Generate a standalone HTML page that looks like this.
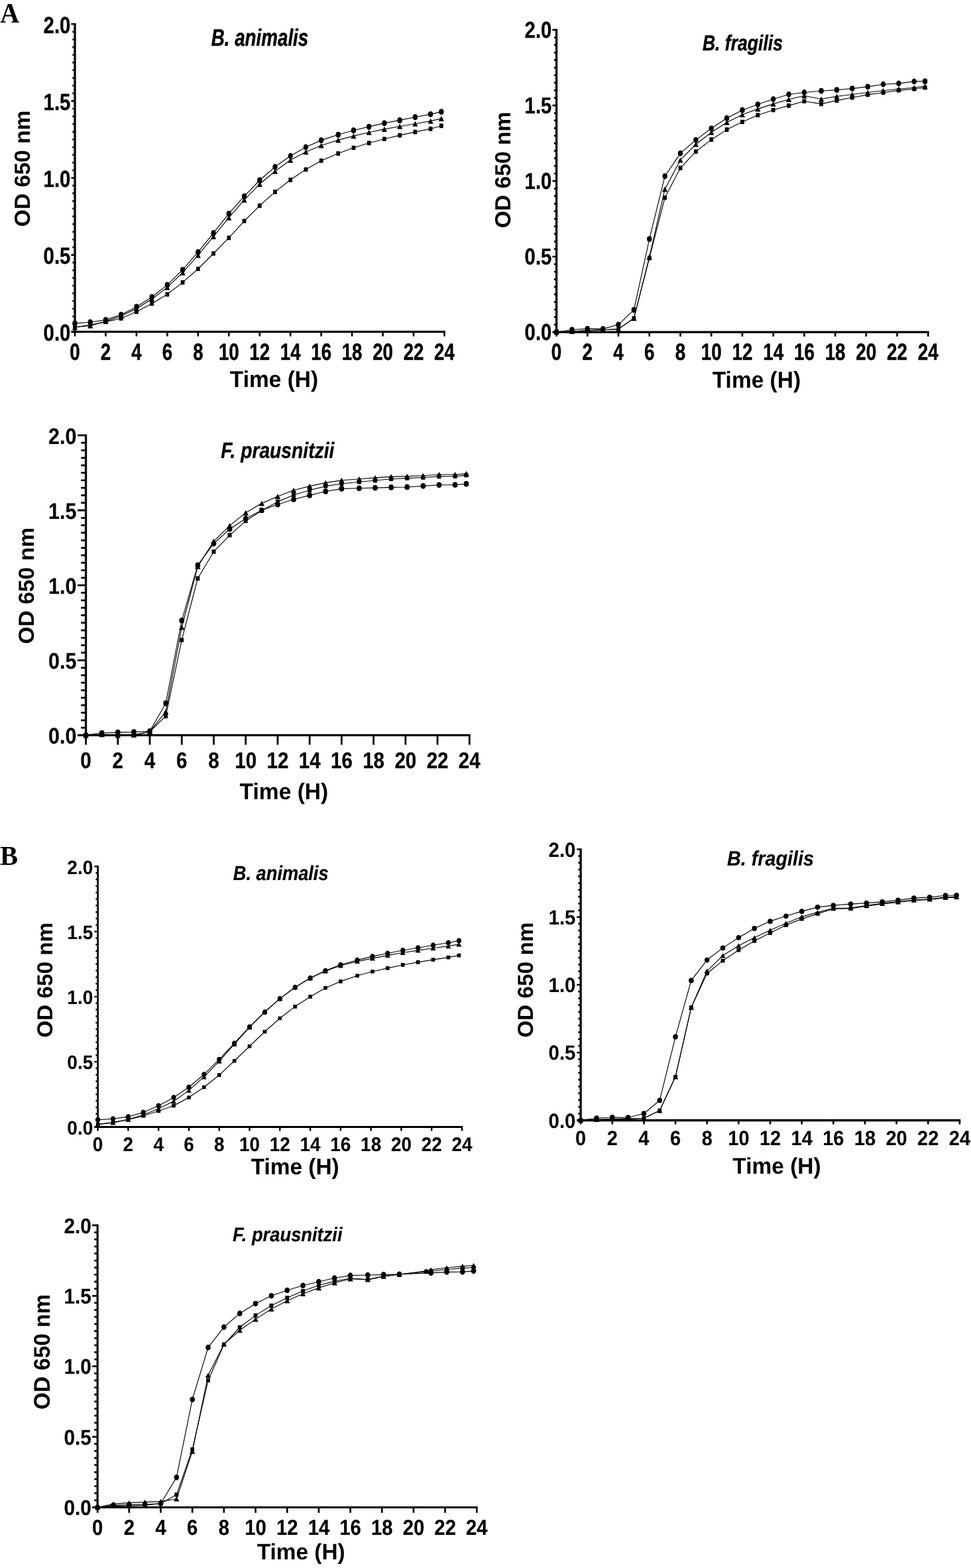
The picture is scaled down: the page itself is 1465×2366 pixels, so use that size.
<!DOCTYPE html>
<html lang="en"><head><meta charset="utf-8"><title>Growth curves</title>
<style>
html,body{margin:0;padding:0;background:#fff}
body{width:1465px;height:2366px;overflow:hidden}
svg{display:block}
text{fill:#000;text-rendering:geometricPrecision}
</style></head><body>
<svg width="1465" height="2366" viewBox="0 0 1465 2366">
<rect width="1465" height="2366" fill="#fff"/>
<text font-family="Liberation Serif, Times New Roman, serif" font-weight="bold" font-size="42.27" transform="translate(0.25 34) scale(0.945 1)">A</text>
<text font-family="Liberation Serif, Times New Roman, serif" font-weight="bold" font-size="41.37" transform="translate(0.09 1305) scale(0.979 1)">B</text>
<g id="chart1">
<g stroke="#000" fill="none" stroke-linecap="butt">
<path stroke-width="3.3" d="M113 35V502.35"/>
<path stroke-width="3.3" d="M107.4 500.7H671.8"/>
<path stroke-width="2.6" d="M107.4 384.6H113M107.4 268.5H113M107.4 152.4H113M107.4 36.3H113"/>
<path stroke-width="2.7" d="M109.3 489.09H113M109.3 477.48H113M109.3 465.87H113M109.3 454.26H113M109.3 442.65H113M109.3 431.04H113M109.3 419.43H113M109.3 407.82H113M109.3 396.21H113M109.3 372.99H113M109.3 361.38H113M109.3 349.77H113M109.3 338.16H113M109.3 326.55H113M109.3 314.94H113M109.3 303.33H113M109.3 291.72H113M109.3 280.11H113M109.3 256.89H113M109.3 245.28H113M109.3 233.67H113M109.3 222.06H113M109.3 210.45H113M109.3 198.84H113M109.3 187.23H113M109.3 175.62H113M109.3 164.01H113M109.3 140.79H113M109.3 129.18H113M109.3 117.57H113M109.3 105.96H113M109.3 94.35H113M109.3 82.74H113M109.3 71.13H113M109.3 59.52H113M109.3 47.91H113"/>
<path stroke-width="2.6" d="M113 500.7V507.6M159.46 500.7V507.6M205.92 500.7V507.6M252.38 500.7V507.6M298.83 500.7V507.6M345.29 500.7V507.6M391.75 500.7V507.6M438.21 500.7V507.6M484.67 500.7V507.6M531.12 500.7V507.6M577.58 500.7V507.6M624.04 500.7V507.6M670.5 500.7V507.6"/>
</g>
<g font-family="Liberation Sans, Arial, sans-serif" font-weight="bold" font-size="35.11" text-anchor="end" stroke="#000" stroke-width="0.36" stroke-linejoin="round">
<text transform="translate(106.33 513.97) scale(0.834 1)">0.0</text>
<text transform="translate(106.33 397.87) scale(0.834 1)">0.5</text>
<text transform="translate(106.33 281.77) scale(0.834 1)">1.0</text>
<text transform="translate(106.33 165.67) scale(0.834 1)">1.5</text>
<text transform="translate(106.33 49.57) scale(0.834 1)">2.0</text>
</g>
<g font-family="Liberation Sans, Arial, sans-serif" font-weight="bold" font-size="35.3" text-anchor="middle" stroke="#000" stroke-width="0.48" stroke-linejoin="round">
<text transform="translate(113 542.86) scale(0.784 1)">0</text>
<text transform="translate(159.46 542.86) scale(0.784 1)">2</text>
<text transform="translate(205.92 542.86) scale(0.784 1)">4</text>
<text transform="translate(252.38 542.86) scale(0.784 1)">6</text>
<text transform="translate(298.83 542.86) scale(0.784 1)">8</text>
<text transform="translate(345.29 542.86) scale(0.784 1)">10</text>
<text transform="translate(391.75 542.86) scale(0.784 1)">12</text>
<text transform="translate(438.21 542.86) scale(0.784 1)">14</text>
<text transform="translate(484.67 542.86) scale(0.784 1)">16</text>
<text transform="translate(531.12 542.86) scale(0.784 1)">18</text>
<text transform="translate(577.58 542.86) scale(0.784 1)">20</text>
<text transform="translate(624.04 542.86) scale(0.784 1)">22</text>
<text transform="translate(670.5 542.86) scale(0.784 1)">24</text>
</g>
<text font-family="Liberation Sans, Arial, sans-serif" font-weight="bold" font-style="italic" font-size="36.01" stroke="#000" stroke-width="0.54" stroke-linejoin="round" transform="translate(318.72 68.83) scale(0.771 1)">B. animalis</text>
<text font-family="Liberation Sans, Arial, sans-serif" font-weight="bold" font-size="34.62" transform="translate(346.87 584.1) scale(0.967 1)">Time (H)</text>
<text font-family="Liberation Sans, Arial, sans-serif" font-weight="bold" font-size="33.02" transform="translate(44.73 342.14) rotate(-90) scale(1.018 1)">OD 650 nm</text>
<g stroke="#000" stroke-width="1.15" fill="none" stroke-linejoin="round">
<polyline points="113,487.93 136.23,486.3 159.46,482.59 182.69,474.93 205.92,463.08 229.15,448.22 252.38,429.88 275.6,407.12 298.83,380.42 322.06,351.63 345.29,322.37 368.52,296.13 391.75,271.98 414.98,251.78 438.21,235.3 461.44,222.06 484.67,211.61 510.22,203.25 533.45,196.75 556.68,191.18 579.91,185.84 603.14,181.43 626.36,176.78 649.59,172.37 665.85,168.65"/>
<polyline points="113,493.73 136.23,490.25 159.46,485.61 182.69,480.5 205.92,470.28 229.15,458.21 252.38,444.04 275.6,426.16 298.83,405.73 322.06,382.51 345.29,358.83 368.52,333.52 391.75,310.3 414.98,289.63 438.21,271.29 461.44,255.73 484.67,242.49 510.22,231.58 533.45,222.99 556.68,215.79 579.91,209.75 603.14,204.18 626.36,199.07 649.59,194.43 665.85,189.78"/>
<polyline points="113,493.73 136.23,491.41 159.46,484.91 182.69,476.78 205.92,465.64 229.15,451.24 252.38,433.59 275.6,411.3 298.83,385.06 322.06,356.97 345.29,328.41 368.52,301.7 391.75,277.79 414.98,258.52 438.21,241.56 461.44,229.26 484.67,219.51 510.22,211.38 533.45,205.11 556.68,199.77 579.91,194.89 603.14,190.71 626.36,186.77 649.59,182.59 665.85,178.87"/>
</g>
<g fill="#000">
<path d="M109.3 487.93a3.7 4.45 0 1 0 7.4 0a3.7 4.45 0 1 0 -7.4 0zM132.53 486.3a3.7 4.45 0 1 0 7.4 0a3.7 4.45 0 1 0 -7.4 0zM155.76 482.59a3.7 4.45 0 1 0 7.4 0a3.7 4.45 0 1 0 -7.4 0zM178.99 474.93a3.7 4.45 0 1 0 7.4 0a3.7 4.45 0 1 0 -7.4 0zM202.22 463.08a3.7 4.45 0 1 0 7.4 0a3.7 4.45 0 1 0 -7.4 0zM225.45 448.22a3.7 4.45 0 1 0 7.4 0a3.7 4.45 0 1 0 -7.4 0zM248.68 429.88a3.7 4.45 0 1 0 7.4 0a3.7 4.45 0 1 0 -7.4 0zM271.9 407.12a3.7 4.45 0 1 0 7.4 0a3.7 4.45 0 1 0 -7.4 0zM295.13 380.42a3.7 4.45 0 1 0 7.4 0a3.7 4.45 0 1 0 -7.4 0zM318.36 351.63a3.7 4.45 0 1 0 7.4 0a3.7 4.45 0 1 0 -7.4 0zM341.59 322.37a3.7 4.45 0 1 0 7.4 0a3.7 4.45 0 1 0 -7.4 0zM364.82 296.13a3.7 4.45 0 1 0 7.4 0a3.7 4.45 0 1 0 -7.4 0zM388.05 271.98a3.7 4.45 0 1 0 7.4 0a3.7 4.45 0 1 0 -7.4 0zM411.28 251.78a3.7 4.45 0 1 0 7.4 0a3.7 4.45 0 1 0 -7.4 0zM434.51 235.3a3.7 4.45 0 1 0 7.4 0a3.7 4.45 0 1 0 -7.4 0zM457.74 222.06a3.7 4.45 0 1 0 7.4 0a3.7 4.45 0 1 0 -7.4 0zM480.97 211.61a3.7 4.45 0 1 0 7.4 0a3.7 4.45 0 1 0 -7.4 0zM506.52 203.25a3.7 4.45 0 1 0 7.4 0a3.7 4.45 0 1 0 -7.4 0zM529.75 196.75a3.7 4.45 0 1 0 7.4 0a3.7 4.45 0 1 0 -7.4 0zM552.98 191.18a3.7 4.45 0 1 0 7.4 0a3.7 4.45 0 1 0 -7.4 0zM576.21 185.84a3.7 4.45 0 1 0 7.4 0a3.7 4.45 0 1 0 -7.4 0zM599.44 181.43a3.7 4.45 0 1 0 7.4 0a3.7 4.45 0 1 0 -7.4 0zM622.67 176.78a3.7 4.45 0 1 0 7.4 0a3.7 4.45 0 1 0 -7.4 0zM645.89 172.37a3.7 4.45 0 1 0 7.4 0a3.7 4.45 0 1 0 -7.4 0zM662.15 168.65a3.7 4.45 0 1 0 7.4 0a3.7 4.45 0 1 0 -7.4 0z"/>
<path d="M110.15 490.38h5.7v6.7h-5.7zM133.38 486.9h5.7v6.7h-5.7zM156.61 482.26h5.7v6.7h-5.7zM179.84 477.15h5.7v6.7h-5.7zM203.07 466.93h5.7v6.7h-5.7zM226.3 454.86h5.7v6.7h-5.7zM249.53 440.69h5.7v6.7h-5.7zM272.75 422.81h5.7v6.7h-5.7zM295.98 402.38h5.7v6.7h-5.7zM319.21 379.16h5.7v6.7h-5.7zM342.44 355.48h5.7v6.7h-5.7zM365.67 330.17h5.7v6.7h-5.7zM388.9 306.95h5.7v6.7h-5.7zM412.13 286.28h5.7v6.7h-5.7zM435.36 267.94h5.7v6.7h-5.7zM458.59 252.38h5.7v6.7h-5.7zM481.82 239.14h5.7v6.7h-5.7zM507.37 228.23h5.7v6.7h-5.7zM530.6 219.64h5.7v6.7h-5.7zM553.83 212.44h5.7v6.7h-5.7zM577.06 206.4h5.7v6.7h-5.7zM600.29 200.83h5.7v6.7h-5.7zM623.52 195.72h5.7v6.7h-5.7zM646.74 191.08h5.7v6.7h-5.7zM663 186.43h5.7v6.7h-5.7z"/>
<path d="M113 489.63L117.1 497.83H108.9zM136.23 487.31L140.33 495.51H132.13zM159.46 480.81L163.56 489.01H155.36zM182.69 472.68L186.79 480.88H178.59zM205.92 461.54L210.02 469.74H201.82zM229.15 447.14L233.25 455.34H225.05zM252.38 429.49L256.47 437.7H248.28zM275.6 407.2L279.7 415.4H271.5zM298.83 380.96L302.93 389.17H294.73zM322.06 352.87L326.16 361.07H317.96zM345.29 324.31L349.39 332.51H341.19zM368.52 297.6L372.62 305.81H364.42zM391.75 273.69L395.85 281.89H387.65zM414.98 254.41L419.08 262.62H410.88zM438.21 237.46L442.31 245.67H434.11zM461.44 225.16L465.54 233.36H457.34zM484.67 215.4L488.77 223.61H480.57zM510.22 207.28L514.32 215.48H506.12zM533.45 201.01L537.55 209.21H529.35zM556.68 195.67L560.78 203.87H552.58zM579.91 190.79L584.01 198.99H575.81zM603.14 186.61L607.23 194.81H599.04zM626.36 182.66L630.46 190.87H622.27zM649.59 178.49L653.69 186.69H645.49zM665.85 174.77L669.95 182.97H661.75z"/>
</g>
</g>
<g id="chart2">
<g stroke="#000" fill="none" stroke-linecap="butt">
<path stroke-width="3.3" d="M839.6 43.8V502.85"/>
<path stroke-width="3.3" d="M833.5 501.2H1401.6"/>
<path stroke-width="2.6" d="M833.5 387.18H839.6M833.5 273.15H839.6M833.5 159.12H839.6M833.5 45.1H839.6"/>
<path stroke-width="2.7" d="M835.9 489.8H839.6M835.9 478.39H839.6M835.9 466.99H839.6M835.9 455.59H839.6M835.9 444.19H839.6M835.9 432.78H839.6M835.9 421.38H839.6M835.9 409.98H839.6M835.9 398.58H839.6M835.9 375.77H839.6M835.9 364.37H839.6M835.9 352.97H839.6M835.9 341.56H839.6M835.9 330.16H839.6M835.9 318.76H839.6M835.9 307.36H839.6M835.9 295.96H839.6M835.9 284.55H839.6M835.9 261.75H839.6M835.9 250.34H839.6M835.9 238.94H839.6M835.9 227.54H839.6M835.9 216.14H839.6M835.9 204.74H839.6M835.9 193.33H839.6M835.9 181.93H839.6M835.9 170.53H839.6M835.9 147.72H839.6M835.9 136.32H839.6M835.9 124.92H839.6M835.9 113.51H839.6M835.9 102.11H839.6M835.9 90.71H839.6M835.9 79.31H839.6M835.9 67.9H839.6M835.9 56.5H839.6"/>
<path stroke-width="2.6" d="M839.6 501.2V507.7M886.33 501.2V507.7M933.05 501.2V507.7M979.77 501.2V507.7M1026.5 501.2V507.7M1073.22 501.2V507.7M1119.95 501.2V507.7M1166.67 501.2V507.7M1213.4 501.2V507.7M1260.12 501.2V507.7M1306.85 501.2V507.7M1353.57 501.2V507.7M1400.3 501.2V507.7"/>
</g>
<g font-family="Liberation Sans, Arial, sans-serif" font-weight="bold" font-size="34.71" text-anchor="end" stroke="#000" stroke-width="0.34" stroke-linejoin="round">
<text transform="translate(832.33 513.48) scale(0.844 1)">0.0</text>
<text transform="translate(832.33 399.46) scale(0.844 1)">0.5</text>
<text transform="translate(832.33 285.43) scale(0.844 1)">1.0</text>
<text transform="translate(832.33 171.41) scale(0.844 1)">1.5</text>
<text transform="translate(832.33 57.38) scale(0.844 1)">2.0</text>
</g>
<g font-family="Liberation Sans, Arial, sans-serif" font-weight="bold" font-size="35.31" text-anchor="middle" stroke="#000" stroke-width="0.47" stroke-linejoin="round">
<text transform="translate(839.6 542.87) scale(0.789 1)">0</text>
<text transform="translate(886.33 542.87) scale(0.789 1)">2</text>
<text transform="translate(933.05 542.87) scale(0.789 1)">4</text>
<text transform="translate(979.77 542.87) scale(0.789 1)">6</text>
<text transform="translate(1026.5 542.87) scale(0.789 1)">8</text>
<text transform="translate(1073.22 542.87) scale(0.789 1)">10</text>
<text transform="translate(1119.95 542.87) scale(0.789 1)">12</text>
<text transform="translate(1166.67 542.87) scale(0.789 1)">14</text>
<text transform="translate(1213.4 542.87) scale(0.789 1)">16</text>
<text transform="translate(1260.12 542.87) scale(0.789 1)">18</text>
<text transform="translate(1306.85 542.87) scale(0.789 1)">20</text>
<text transform="translate(1353.57 542.87) scale(0.789 1)">22</text>
<text transform="translate(1400.3 542.87) scale(0.789 1)">24</text>
</g>
<text font-family="Liberation Sans, Arial, sans-serif" font-weight="bold" font-style="italic" font-size="32.81" stroke="#000" stroke-width="0.44" stroke-linejoin="round" transform="translate(1059.91 75.68) scale(0.810 1)">B. fragilis</text>
<text font-family="Liberation Sans, Arial, sans-serif" font-weight="bold" font-size="34.76" transform="translate(1074.77 585) scale(0.963 1)">Time (H)</text>
<text font-family="Liberation Sans, Arial, sans-serif" font-weight="bold" font-size="33.02" transform="translate(769.73 344.35) rotate(-90) scale(1.019 1)">OD 650 nm</text>
<g stroke="#000" stroke-width="1.15" fill="none" stroke-linejoin="round">
<polyline points="839.6,501.2 862.96,497.55 886.33,496.18 909.69,496.41 933.05,489.8 956.41,467.68 979.77,360.72 1003.14,265.85 1026.5,231.42 1049.86,211.12 1073.22,193.79 1096.59,178.28 1119.95,166.19 1143.31,157.53 1166.67,149.55 1190.04,142.48 1213.4,139.51 1239.1,137.23 1262.46,135.64 1285.82,133.58 1309.19,130.85 1332.55,127.2 1355.91,125.83 1379.27,122.87 1395.63,122.64"/>
<polyline points="839.6,501.2 862.96,500.06 886.33,498.92 909.69,497.78 933.05,496.64 956.41,480.22 979.77,389.46 1003.14,298.24 1026.5,253.54 1049.86,228.68 1073.22,210.66 1096.59,195.61 1119.95,183.98 1143.31,173.72 1166.67,165.97 1190.04,159.35 1213.4,152.74 1239.1,156.84 1262.46,151.6 1285.82,147.27 1309.19,142.93 1332.55,139.74 1355.91,136.32 1379.27,134.27 1395.63,132.22"/>
<polyline points="839.6,501.2 862.96,500.06 886.33,498.92 909.69,497.78 933.05,496.64 956.41,480.22 979.77,387.63 1003.14,285.46 1026.5,241.45 1049.86,217.73 1073.22,199.72 1096.59,184.67 1119.95,173.04 1143.31,164.37 1166.67,156.84 1190.04,150 1213.4,144.53 1239.1,149.55 1262.46,145.44 1285.82,142.48 1309.19,139.51 1332.55,136.78 1355.91,134.27 1379.27,132.22 1395.63,130.16"/>
</g>
<g fill="#000">
<path d="M835.88 501.2a3.72 4.37 0 1 0 7.44 0a3.72 4.37 0 1 0 -7.44 0zM859.24 497.55a3.72 4.37 0 1 0 7.44 0a3.72 4.37 0 1 0 -7.44 0zM882.6 496.18a3.72 4.37 0 1 0 7.44 0a3.72 4.37 0 1 0 -7.44 0zM905.97 496.41a3.72 4.37 0 1 0 7.44 0a3.72 4.37 0 1 0 -7.44 0zM929.33 489.8a3.72 4.37 0 1 0 7.44 0a3.72 4.37 0 1 0 -7.44 0zM952.69 467.68a3.72 4.37 0 1 0 7.44 0a3.72 4.37 0 1 0 -7.44 0zM976.05 360.72a3.72 4.37 0 1 0 7.44 0a3.72 4.37 0 1 0 -7.44 0zM999.42 265.85a3.72 4.37 0 1 0 7.44 0a3.72 4.37 0 1 0 -7.44 0zM1022.78 231.42a3.72 4.37 0 1 0 7.44 0a3.72 4.37 0 1 0 -7.44 0zM1046.14 211.12a3.72 4.37 0 1 0 7.44 0a3.72 4.37 0 1 0 -7.44 0zM1069.5 193.79a3.72 4.37 0 1 0 7.44 0a3.72 4.37 0 1 0 -7.44 0zM1092.87 178.28a3.72 4.37 0 1 0 7.44 0a3.72 4.37 0 1 0 -7.44 0zM1116.23 166.19a3.72 4.37 0 1 0 7.44 0a3.72 4.37 0 1 0 -7.44 0zM1139.59 157.53a3.72 4.37 0 1 0 7.44 0a3.72 4.37 0 1 0 -7.44 0zM1162.95 149.55a3.72 4.37 0 1 0 7.44 0a3.72 4.37 0 1 0 -7.44 0zM1186.32 142.48a3.72 4.37 0 1 0 7.44 0a3.72 4.37 0 1 0 -7.44 0zM1209.68 139.51a3.72 4.37 0 1 0 7.44 0a3.72 4.37 0 1 0 -7.44 0zM1235.38 137.23a3.72 4.37 0 1 0 7.44 0a3.72 4.37 0 1 0 -7.44 0zM1258.74 135.64a3.72 4.37 0 1 0 7.44 0a3.72 4.37 0 1 0 -7.44 0zM1282.1 133.58a3.72 4.37 0 1 0 7.44 0a3.72 4.37 0 1 0 -7.44 0zM1305.47 130.85a3.72 4.37 0 1 0 7.44 0a3.72 4.37 0 1 0 -7.44 0zM1328.83 127.2a3.72 4.37 0 1 0 7.44 0a3.72 4.37 0 1 0 -7.44 0zM1352.19 125.83a3.72 4.37 0 1 0 7.44 0a3.72 4.37 0 1 0 -7.44 0zM1375.55 122.87a3.72 4.37 0 1 0 7.44 0a3.72 4.37 0 1 0 -7.44 0zM1391.91 122.64a3.72 4.37 0 1 0 7.44 0a3.72 4.37 0 1 0 -7.44 0z"/>
<path d="M836.73 497.91h5.73v6.58h-5.73zM860.1 496.77h5.73v6.58h-5.73zM883.46 495.63h5.73v6.58h-5.73zM906.82 494.49h5.73v6.58h-5.73zM930.18 493.35h5.73v6.58h-5.73zM953.55 476.93h5.73v6.58h-5.73zM976.91 386.16h5.73v6.58h-5.73zM1000.27 294.94h5.73v6.58h-5.73zM1023.63 250.25h5.73v6.58h-5.73zM1047 225.39h5.73v6.58h-5.73zM1070.36 207.37h5.73v6.58h-5.73zM1093.72 192.32h5.73v6.58h-5.73zM1117.08 180.69h5.73v6.58h-5.73zM1140.45 170.43h5.73v6.58h-5.73zM1163.81 162.68h5.73v6.58h-5.73zM1187.17 156.06h5.73v6.58h-5.73zM1210.53 149.45h5.73v6.58h-5.73zM1236.23 153.55h5.73v6.58h-5.73zM1259.6 148.31h5.73v6.58h-5.73zM1282.96 143.98h5.73v6.58h-5.73zM1306.32 139.64h5.73v6.58h-5.73zM1329.68 136.45h5.73v6.58h-5.73zM1353.05 133.03h5.73v6.58h-5.73zM1376.41 130.98h5.73v6.58h-5.73zM1392.76 128.92h5.73v6.58h-5.73z"/>
<path d="M839.6 497.17L843.72 505.23H835.48zM862.96 496.03L867.09 504.09H858.84zM886.33 494.89L890.45 502.95H882.2zM909.69 493.75L913.81 501.81H905.56zM933.05 492.61L937.17 500.67H928.93zM956.41 476.19L960.54 484.25H952.29zM979.77 383.6L983.9 391.66H975.65zM1003.14 281.44L1007.26 289.49H999.01zM1026.5 237.42L1030.62 245.48H1022.38zM1049.86 213.71L1053.99 221.76H1045.74zM1073.22 195.69L1077.35 203.75H1069.1zM1096.59 180.64L1100.71 188.69H1092.46zM1119.95 169.01L1124.07 177.06H1115.83zM1143.31 160.34L1147.44 168.4H1139.19zM1166.67 152.82L1170.8 160.87H1162.55zM1190.04 145.98L1194.16 154.03H1185.91zM1213.4 140.5L1217.52 148.56H1209.28zM1239.1 145.52L1243.22 153.57H1234.98zM1262.46 141.41L1266.58 149.47H1258.34zM1285.82 138.45L1289.95 146.5H1281.7zM1309.19 135.49L1313.31 143.54H1305.06zM1332.55 132.75L1336.67 140.8H1328.43zM1355.91 130.24L1360.03 138.3H1351.79zM1379.27 128.19L1383.4 136.24H1375.15zM1395.63 126.14L1399.75 134.19H1391.5z"/>
</g>
</g>
<g id="chart3">
<g stroke="#000" fill="none" stroke-linecap="butt">
<path stroke-width="3.3" d="M129.55 655.5V1111.05"/>
<path stroke-width="3.3" d="M117 1109.4H709.7"/>
<path stroke-width="2.8" d="M117 996.28H129.55M117 883.15H129.55M117 770.02H129.55M117 656.9H129.55"/>
<path stroke-width="2.7" d="M122.2 1098.09H129.55M122.2 1086.78H129.55M122.2 1075.46H129.55M122.2 1064.15H129.55M122.2 1052.84H129.55M122.2 1041.53H129.55M122.2 1030.21H129.55M122.2 1018.9H129.55M122.2 1007.59H129.55M122.2 984.96H129.55M122.2 973.65H129.55M122.2 962.34H129.55M122.2 951.03H129.55M122.2 939.71H129.55M122.2 928.4H129.55M122.2 917.09H129.55M122.2 905.78H129.55M122.2 894.46H129.55M122.2 871.84H129.55M122.2 860.52H129.55M122.2 849.21H129.55M122.2 837.9H129.55M122.2 826.59H129.55M122.2 815.28H129.55M122.2 803.96H129.55M122.2 792.65H129.55M122.2 781.34H129.55M122.2 758.71H129.55M122.2 747.4H129.55M122.2 736.09H129.55M122.2 724.77H129.55M122.2 713.46H129.55M122.2 702.15H129.55M122.2 690.84H129.55M122.2 679.52H129.55M122.2 668.21H129.55"/>
<path stroke-width="2.8" d="M129.55 1109.4V1123.7M177.78 1109.4V1123.7M226.01 1109.4V1123.7M274.24 1109.4V1123.7M322.47 1109.4V1123.7M370.7 1109.4V1123.7M418.93 1109.4V1123.7M467.15 1109.4V1123.7M515.38 1109.4V1123.7M563.61 1109.4V1123.7M611.84 1109.4V1123.7M660.07 1109.4V1123.7M708.3 1109.4V1123.7"/>
</g>
<g font-family="Liberation Sans, Arial, sans-serif" font-weight="bold" font-size="34.04" text-anchor="end" stroke="#000" stroke-width="0.22" stroke-linejoin="round">
<text transform="translate(115.32 1122.25) scale(0.894 1)">0.0</text>
<text transform="translate(115.32 1009.12) scale(0.894 1)">0.5</text>
<text transform="translate(115.32 896) scale(0.894 1)">1.0</text>
<text transform="translate(115.32 782.87) scale(0.894 1)">1.5</text>
<text transform="translate(115.32 669.75) scale(0.894 1)">2.0</text>
</g>
<g font-family="Liberation Sans, Arial, sans-serif" font-weight="bold" font-size="34.15" text-anchor="middle" stroke="#000" stroke-width="0.28" stroke-linejoin="round">
<text transform="translate(129.55 1158.86) scale(0.866 1)">0</text>
<text transform="translate(177.78 1158.86) scale(0.866 1)">2</text>
<text transform="translate(226.01 1158.86) scale(0.866 1)">4</text>
<text transform="translate(274.24 1158.86) scale(0.866 1)">6</text>
<text transform="translate(322.47 1158.86) scale(0.866 1)">8</text>
<text transform="translate(370.7 1158.86) scale(0.866 1)">10</text>
<text transform="translate(418.93 1158.86) scale(0.866 1)">12</text>
<text transform="translate(467.15 1158.86) scale(0.866 1)">14</text>
<text transform="translate(515.38 1158.86) scale(0.866 1)">16</text>
<text transform="translate(563.61 1158.86) scale(0.866 1)">18</text>
<text transform="translate(611.84 1158.86) scale(0.866 1)">20</text>
<text transform="translate(660.07 1158.86) scale(0.866 1)">22</text>
<text transform="translate(708.3 1158.86) scale(0.866 1)">24</text>
</g>
<text font-family="Liberation Sans, Arial, sans-serif" font-weight="bold" font-style="italic" font-size="33.38" stroke="#000" stroke-width="0.35" stroke-linejoin="round" transform="translate(333.35 690.83) scale(0.846 1)">F. prausnitzii</text>
<text font-family="Liberation Sans, Arial, sans-serif" font-weight="bold" font-size="34.47" transform="translate(361.56 1206.1) scale(0.974 1)">Time (H)</text>
<text font-family="Liberation Sans, Arial, sans-serif" font-weight="bold" font-size="32.86" transform="translate(50.67 971.75) rotate(-90) scale(1.025 1)">OD 650 nm</text>
<g stroke="#000" stroke-width="1.15" fill="none" stroke-linejoin="round">
<polyline points="129.55,1109.4 153.66,1106.01 177.78,1105.1 201.89,1104.65 226.01,1103.29 250.12,1061.21 274.24,936.32 298.35,852.83 322.47,820.25 346.58,798.31 370.7,782.47 394.81,770.02 418.93,761.2 443.04,753.51 467.15,747.4 491.27,741.52 515.38,737.44 541.91,736.77 566.02,736.09 590.14,735.41 614.25,734.96 638.37,733.37 662.48,731.79 686.6,731.56 703.48,730.2"/>
<polyline points="129.55,1109.4 153.66,1108.27 177.78,1108.72 201.89,1109.4 226.01,1103.97 250.12,1080.44 274.24,965.73 298.35,872.74 322.47,832.47 346.58,807.58 370.7,786.09 394.81,770.48 418.93,757.13 443.04,746.95 467.15,739.71 491.27,733.6 515.38,729.98 541.91,727.26 566.02,725 590.14,722.74 614.25,721.61 638.37,720.48 662.48,718.89 686.6,718.67 703.48,717.08"/>
<polyline points="129.55,1109.4 153.66,1108.27 177.78,1109.4 201.89,1108.72 226.01,1103.97 250.12,1073.88 274.24,946.5 298.35,854.87 322.47,816.86 346.58,793.1 370.7,773.64 394.81,759.62 418.93,748.98 443.04,739.71 467.15,733.6 491.27,728.39 515.38,724.77 541.91,722.74 566.02,720.93 590.14,719.35 614.25,718.67 638.37,717.76 662.48,715.95 686.6,715.95 703.48,714.82"/>
</g>
<g fill="#000">
<path d="M125.71 1109.4a3.84 4.34 0 1 0 7.68 0a3.84 4.34 0 1 0 -7.68 0zM149.82 1106.01a3.84 4.34 0 1 0 7.68 0a3.84 4.34 0 1 0 -7.68 0zM173.94 1105.1a3.84 4.34 0 1 0 7.68 0a3.84 4.34 0 1 0 -7.68 0zM198.05 1104.65a3.84 4.34 0 1 0 7.68 0a3.84 4.34 0 1 0 -7.68 0zM222.17 1103.29a3.84 4.34 0 1 0 7.68 0a3.84 4.34 0 1 0 -7.68 0zM246.28 1061.21a3.84 4.34 0 1 0 7.68 0a3.84 4.34 0 1 0 -7.68 0zM270.4 936.32a3.84 4.34 0 1 0 7.68 0a3.84 4.34 0 1 0 -7.68 0zM294.51 852.83a3.84 4.34 0 1 0 7.68 0a3.84 4.34 0 1 0 -7.68 0zM318.63 820.25a3.84 4.34 0 1 0 7.68 0a3.84 4.34 0 1 0 -7.68 0zM342.74 798.31a3.84 4.34 0 1 0 7.68 0a3.84 4.34 0 1 0 -7.68 0zM366.86 782.47a3.84 4.34 0 1 0 7.68 0a3.84 4.34 0 1 0 -7.68 0zM390.97 770.02a3.84 4.34 0 1 0 7.68 0a3.84 4.34 0 1 0 -7.68 0zM415.08 761.2a3.84 4.34 0 1 0 7.68 0a3.84 4.34 0 1 0 -7.68 0zM439.2 753.51a3.84 4.34 0 1 0 7.68 0a3.84 4.34 0 1 0 -7.68 0zM463.31 747.4a3.84 4.34 0 1 0 7.68 0a3.84 4.34 0 1 0 -7.68 0zM487.43 741.52a3.84 4.34 0 1 0 7.68 0a3.84 4.34 0 1 0 -7.68 0zM511.54 737.44a3.84 4.34 0 1 0 7.68 0a3.84 4.34 0 1 0 -7.68 0zM538.07 736.77a3.84 4.34 0 1 0 7.68 0a3.84 4.34 0 1 0 -7.68 0zM562.18 736.09a3.84 4.34 0 1 0 7.68 0a3.84 4.34 0 1 0 -7.68 0zM586.3 735.41a3.84 4.34 0 1 0 7.68 0a3.84 4.34 0 1 0 -7.68 0zM610.41 734.96a3.84 4.34 0 1 0 7.68 0a3.84 4.34 0 1 0 -7.68 0zM634.53 733.37a3.84 4.34 0 1 0 7.68 0a3.84 4.34 0 1 0 -7.68 0zM658.64 731.79a3.84 4.34 0 1 0 7.68 0a3.84 4.34 0 1 0 -7.68 0zM682.76 731.56a3.84 4.34 0 1 0 7.68 0a3.84 4.34 0 1 0 -7.68 0zM699.64 730.2a3.84 4.34 0 1 0 7.68 0a3.84 4.34 0 1 0 -7.68 0z"/>
<path d="M126.59 1106.14h5.92v6.53h-5.92zM150.71 1105h5.92v6.53h-5.92zM174.82 1105.46h5.92v6.53h-5.92zM198.94 1106.14h5.92v6.53h-5.92zM223.05 1100.71h5.92v6.53h-5.92zM247.16 1077.18h5.92v6.53h-5.92zM271.28 962.47h5.92v6.53h-5.92zM295.39 869.48h5.92v6.53h-5.92zM319.51 829.21h5.92v6.53h-5.92zM343.62 804.32h5.92v6.53h-5.92zM367.74 782.82h5.92v6.53h-5.92zM391.85 767.21h5.92v6.53h-5.92zM415.97 753.86h5.92v6.53h-5.92zM440.08 743.68h5.92v6.53h-5.92zM464.2 736.44h5.92v6.53h-5.92zM488.31 730.33h5.92v6.53h-5.92zM512.43 726.71h5.92v6.53h-5.92zM538.95 724h5.92v6.53h-5.92zM563.07 721.74h5.92v6.53h-5.92zM587.18 719.47h5.92v6.53h-5.92zM611.3 718.34h5.92v6.53h-5.92zM635.41 717.21h5.92v6.53h-5.92zM659.52 715.63h5.92v6.53h-5.92zM683.64 715.4h5.92v6.53h-5.92zM700.52 713.82h5.92v6.53h-5.92z"/>
<path d="M129.55 1105.4L133.81 1113.4H125.29zM153.66 1104.27L157.92 1112.26H149.41zM177.78 1105.4L182.03 1113.4H173.52zM201.89 1104.73L206.15 1112.72H197.64zM226.01 1099.97L230.26 1107.97H221.75zM250.12 1069.88L254.38 1077.87H245.87zM274.24 942.5L278.49 950.5H269.98zM298.35 850.87L302.61 858.86H294.1zM322.47 812.86L326.72 820.85H318.21zM346.58 789.11L350.84 797.1H342.33zM370.7 769.65L374.95 777.64H366.44zM394.81 755.62L399.07 763.61H390.55zM418.93 744.99L423.18 752.98H414.67zM443.04 735.71L447.3 743.7H438.78zM467.15 729.6L471.41 737.59H462.9zM491.27 724.4L495.52 732.39H487.01zM515.38 720.78L519.64 728.77H511.13zM541.91 718.74L546.16 726.73H537.65zM566.02 716.93L570.28 724.92H561.77zM590.14 715.35L594.39 723.34H585.88zM614.25 714.67L618.51 722.66H610zM638.37 713.77L642.62 721.76H634.11zM662.48 711.96L666.74 719.95H658.23zM686.6 711.96L690.85 719.95H682.34zM703.48 710.82L707.73 718.82H699.22z"/>
</g>
</g>
<g id="chart4">
<g stroke="#000" fill="none" stroke-linecap="butt">
<path stroke-width="2.7" d="M147.6 1306.2V1701.75"/>
<path stroke-width="3" d="M142.3 1700.4H698.2"/>
<path stroke-width="2.4" d="M142.3 1602.15H147.6M142.3 1503.9H147.6M142.3 1405.65H147.6M142.3 1307.4H147.6"/>
<path stroke-width="2.5" d="M144.4 1690.58H147.6M144.4 1680.75H147.6M144.4 1670.93H147.6M144.4 1661.1H147.6M144.4 1651.28H147.6M144.4 1641.45H147.6M144.4 1631.62H147.6M144.4 1621.8H147.6M144.4 1611.98H147.6M144.4 1592.33H147.6M144.4 1582.5H147.6M144.4 1572.68H147.6M144.4 1562.85H147.6M144.4 1553.03H147.6M144.4 1543.2H147.6M144.4 1533.38H147.6M144.4 1523.55H147.6M144.4 1513.73H147.6M144.4 1494.08H147.6M144.4 1484.25H147.6M144.4 1474.43H147.6M144.4 1464.6H147.6M144.4 1454.78H147.6M144.4 1444.95H147.6M144.4 1435.12H147.6M144.4 1425.3H147.6M144.4 1415.48H147.6M144.4 1395.83H147.6M144.4 1386H147.6M144.4 1376.18H147.6M144.4 1366.35H147.6M144.4 1356.53H147.6M144.4 1346.7H147.6M144.4 1336.88H147.6M144.4 1327.05H147.6M144.4 1317.23H147.6"/>
<path stroke-width="2.4" d="M147.6 1700.4V1706.4M193.38 1700.4V1706.4M239.17 1700.4V1706.4M284.95 1700.4V1706.4M330.73 1700.4V1706.4M376.52 1700.4V1706.4M422.3 1700.4V1706.4M468.08 1700.4V1706.4M513.87 1700.4V1706.4M559.65 1700.4V1706.4M605.43 1700.4V1706.4M651.22 1700.4V1706.4M697 1700.4V1706.4"/>
</g>
<g font-family="Liberation Sans, Arial, sans-serif" font-weight="bold" font-size="29.44" text-anchor="end" stroke="#000" stroke-width="0.07" stroke-linejoin="round">
<text transform="translate(140.4 1711.67) scale(0.954 1)">0.0</text>
<text transform="translate(140.4 1613.42) scale(0.954 1)">0.5</text>
<text transform="translate(140.4 1515.17) scale(0.954 1)">1.0</text>
<text transform="translate(140.4 1416.92) scale(0.954 1)">1.5</text>
<text transform="translate(140.4 1318.67) scale(0.954 1)">2.0</text>
</g>
<g font-family="Liberation Sans, Arial, sans-serif" font-weight="bold" font-size="29.94" text-anchor="middle" stroke="#000" stroke-width="0.12" stroke-linejoin="round">
<text transform="translate(147.6 1736.94) scale(0.933 1)">0</text>
<text transform="translate(193.38 1736.94) scale(0.933 1)">2</text>
<text transform="translate(239.17 1736.94) scale(0.933 1)">4</text>
<text transform="translate(284.95 1736.94) scale(0.933 1)">6</text>
<text transform="translate(330.73 1736.94) scale(0.933 1)">8</text>
<text transform="translate(376.52 1736.94) scale(0.933 1)">10</text>
<text transform="translate(422.3 1736.94) scale(0.933 1)">12</text>
<text transform="translate(468.08 1736.94) scale(0.933 1)">14</text>
<text transform="translate(513.87 1736.94) scale(0.933 1)">16</text>
<text transform="translate(559.65 1736.94) scale(0.933 1)">18</text>
<text transform="translate(605.43 1736.94) scale(0.933 1)">20</text>
<text transform="translate(651.22 1736.94) scale(0.933 1)">22</text>
<text transform="translate(697 1736.94) scale(0.933 1)">24</text>
</g>
<text font-family="Liberation Sans, Arial, sans-serif" font-weight="bold" font-style="italic" font-size="30.63" stroke="#000" stroke-width="0.24" stroke-linejoin="round" transform="translate(351.83 1327.98) scale(0.889 1)">B. animalis</text>
<text font-family="Liberation Sans, Arial, sans-serif" font-weight="bold" font-size="34.04" transform="translate(378.67 1771.8) scale(0.982 1)">Time (H)</text>
<text font-family="Liberation Sans, Arial, sans-serif" font-weight="bold" font-size="32.79" transform="translate(78.67 1565.83) rotate(-90) scale(1.016 1)">OD 650 nm</text>
<g stroke="#000" stroke-width="1.15" fill="none" stroke-linejoin="round">
<polyline points="147.6,1689.59 170.49,1688.22 193.38,1685.07 216.27,1678.59 239.17,1668.57 262.06,1655.99 284.95,1640.47 307.84,1621.21 330.73,1598.61 353.62,1574.25 376.52,1549.49 399.41,1527.28 422.3,1506.85 445.19,1489.75 468.08,1475.8 490.98,1464.6 513.87,1455.76 539.05,1448.68 561.94,1443.18 584.83,1438.47 607.72,1433.95 630.61,1430.21 653.51,1426.28 676.4,1422.55 692.42,1419.41"/>
<polyline points="147.6,1696.67 170.49,1693.52 193.38,1689.4 216.27,1683.7 239.17,1676.43 262.06,1668.37 284.95,1655.99 307.84,1640.47 330.73,1622.19 353.62,1600.77 376.52,1578.77 399.41,1556.76 422.3,1536.52 445.19,1518.83 468.08,1503.9 490.98,1490.73 513.87,1480.91 539.05,1472.26 561.94,1465.98 584.83,1460.87 607.72,1455.95 630.61,1451.83 653.51,1448.09 676.4,1444.56 692.42,1441.61"/>
<polyline points="147.6,1696.67 170.49,1694.11 193.38,1689.4 216.27,1682.32 239.17,1673.09 262.06,1661.69 284.95,1645.38 307.84,1624.94 330.73,1601.36 353.62,1575.43 376.52,1550.08 399.41,1526.69 422.3,1506.85 445.19,1489.75 468.08,1476 490.98,1465.19 513.87,1456.94 539.05,1450.65 561.94,1446.13 584.83,1441.61 607.72,1437.48 630.61,1434.14 653.51,1430.8 676.4,1427.66 692.42,1424.91"/>
</g>
<g fill="#000">
<path d="M143.95 1689.59a3.65 3.77 0 1 0 7.29 0a3.65 3.77 0 1 0 -7.29 0zM166.85 1688.22a3.65 3.77 0 1 0 7.29 0a3.65 3.77 0 1 0 -7.29 0zM189.74 1685.07a3.65 3.77 0 1 0 7.29 0a3.65 3.77 0 1 0 -7.29 0zM212.63 1678.59a3.65 3.77 0 1 0 7.29 0a3.65 3.77 0 1 0 -7.29 0zM235.52 1668.57a3.65 3.77 0 1 0 7.29 0a3.65 3.77 0 1 0 -7.29 0zM258.41 1655.99a3.65 3.77 0 1 0 7.29 0a3.65 3.77 0 1 0 -7.29 0zM281.3 1640.47a3.65 3.77 0 1 0 7.29 0a3.65 3.77 0 1 0 -7.29 0zM304.2 1621.21a3.65 3.77 0 1 0 7.29 0a3.65 3.77 0 1 0 -7.29 0zM327.09 1598.61a3.65 3.77 0 1 0 7.29 0a3.65 3.77 0 1 0 -7.29 0zM349.98 1574.25a3.65 3.77 0 1 0 7.29 0a3.65 3.77 0 1 0 -7.29 0zM372.87 1549.49a3.65 3.77 0 1 0 7.29 0a3.65 3.77 0 1 0 -7.29 0zM395.76 1527.28a3.65 3.77 0 1 0 7.29 0a3.65 3.77 0 1 0 -7.29 0zM418.65 1506.85a3.65 3.77 0 1 0 7.29 0a3.65 3.77 0 1 0 -7.29 0zM441.55 1489.75a3.65 3.77 0 1 0 7.29 0a3.65 3.77 0 1 0 -7.29 0zM464.44 1475.8a3.65 3.77 0 1 0 7.29 0a3.65 3.77 0 1 0 -7.29 0zM487.33 1464.6a3.65 3.77 0 1 0 7.29 0a3.65 3.77 0 1 0 -7.29 0zM510.22 1455.76a3.65 3.77 0 1 0 7.29 0a3.65 3.77 0 1 0 -7.29 0zM535.4 1448.68a3.65 3.77 0 1 0 7.29 0a3.65 3.77 0 1 0 -7.29 0zM558.29 1443.18a3.65 3.77 0 1 0 7.29 0a3.65 3.77 0 1 0 -7.29 0zM581.19 1438.47a3.65 3.77 0 1 0 7.29 0a3.65 3.77 0 1 0 -7.29 0zM604.08 1433.95a3.65 3.77 0 1 0 7.29 0a3.65 3.77 0 1 0 -7.29 0zM626.97 1430.21a3.65 3.77 0 1 0 7.29 0a3.65 3.77 0 1 0 -7.29 0zM649.86 1426.28a3.65 3.77 0 1 0 7.29 0a3.65 3.77 0 1 0 -7.29 0zM672.75 1422.55a3.65 3.77 0 1 0 7.29 0a3.65 3.77 0 1 0 -7.29 0zM688.78 1419.41a3.65 3.77 0 1 0 7.29 0a3.65 3.77 0 1 0 -7.29 0z"/>
<path d="M144.79 1693.83h5.62v5.67h-5.62zM167.68 1690.69h5.62v5.67h-5.62zM190.58 1686.56h5.62v5.67h-5.62zM213.47 1680.86h5.62v5.67h-5.62zM236.36 1673.59h5.62v5.67h-5.62zM259.25 1665.53h5.62v5.67h-5.62zM282.14 1653.16h5.62v5.67h-5.62zM305.03 1637.63h5.62v5.67h-5.62zM327.93 1619.36h5.62v5.67h-5.62zM350.82 1597.94h5.62v5.67h-5.62zM373.71 1575.93h5.62v5.67h-5.62zM396.6 1553.92h5.62v5.67h-5.62zM419.49 1533.68h5.62v5.67h-5.62zM442.38 1516h5.62v5.67h-5.62zM465.28 1501.06h5.62v5.67h-5.62zM488.17 1487.9h5.62v5.67h-5.62zM511.06 1478.07h5.62v5.67h-5.62zM536.24 1469.43h5.62v5.67h-5.62zM559.13 1463.14h5.62v5.67h-5.62zM582.02 1458.03h5.62v5.67h-5.62zM604.91 1453.12h5.62v5.67h-5.62zM627.81 1448.99h5.62v5.67h-5.62zM650.7 1445.26h5.62v5.67h-5.62zM673.59 1441.72h5.62v5.67h-5.62zM689.61 1438.77h5.62v5.67h-5.62z"/>
<path d="M147.6 1693.2L151.64 1700.14H143.56zM170.49 1690.64L174.53 1697.58H166.45zM193.38 1685.93L197.42 1692.87H189.34zM216.27 1678.85L220.31 1685.79H212.24zM239.17 1669.62L243.21 1676.56H235.13zM262.06 1658.22L266.1 1665.16H258.02zM284.95 1641.91L288.99 1648.85H280.91zM307.84 1621.47L311.88 1628.41H303.8zM330.73 1597.89L334.77 1604.83H326.69zM353.62 1571.96L357.66 1578.9H349.59zM376.52 1546.61L380.56 1553.55H372.48zM399.41 1523.22L403.45 1530.16H395.37zM422.3 1503.38L426.34 1510.32H418.26zM445.19 1486.28L449.23 1493.22H441.15zM468.08 1472.53L472.12 1479.47H464.04zM490.98 1461.72L495.01 1468.66H486.94zM513.87 1453.47L517.91 1460.41H509.83zM539.05 1447.18L543.09 1454.12H535.01zM561.94 1442.66L565.98 1449.6H557.9zM584.83 1438.14L588.87 1445.08H580.79zM607.72 1434.01L611.76 1440.95H603.68zM630.61 1430.67L634.65 1437.61H626.57zM653.51 1427.33L657.55 1434.27H649.47zM676.4 1424.19L680.44 1431.13H672.36zM692.42 1421.44L696.46 1428.38H688.38z"/>
</g>
</g>
<g id="chart5">
<g stroke="#000" fill="none" stroke-linecap="butt">
<path stroke-width="3.3" d="M876.15 1280.2V1692.15"/>
<path stroke-width="3.3" d="M870.3 1690.5H1449.2"/>
<path stroke-width="2.6" d="M870.3 1588.25H876.15M870.3 1486H876.15M870.3 1383.75H876.15M870.3 1281.5H876.15"/>
<path stroke-width="2.7" d="M872.4 1680.28H876.15M872.4 1670.05H876.15M872.4 1659.83H876.15M872.4 1649.6H876.15M872.4 1639.38H876.15M872.4 1629.15H876.15M872.4 1618.92H876.15M872.4 1608.7H876.15M872.4 1598.47H876.15M872.4 1578.03H876.15M872.4 1567.8H876.15M872.4 1557.58H876.15M872.4 1547.35H876.15M872.4 1537.12H876.15M872.4 1526.9H876.15M872.4 1516.67H876.15M872.4 1506.45H876.15M872.4 1496.22H876.15M872.4 1475.78H876.15M872.4 1465.55H876.15M872.4 1455.33H876.15M872.4 1445.1H876.15M872.4 1434.88H876.15M872.4 1424.65H876.15M872.4 1414.42H876.15M872.4 1404.2H876.15M872.4 1393.97H876.15M872.4 1373.53H876.15M872.4 1363.3H876.15M872.4 1353.08H876.15M872.4 1342.85H876.15M872.4 1332.62H876.15M872.4 1322.4H876.15M872.4 1312.17H876.15M872.4 1301.95H876.15M872.4 1291.72H876.15"/>
<path stroke-width="2.6" d="M876.15 1690.5V1696.4M923.8 1690.5V1696.4M971.44 1690.5V1696.4M1019.09 1690.5V1696.4M1066.73 1690.5V1696.4M1114.38 1690.5V1696.4M1162.03 1690.5V1696.4M1209.67 1690.5V1696.4M1257.32 1690.5V1696.4M1304.96 1690.5V1696.4M1352.61 1690.5V1696.4M1400.25 1690.5V1696.4M1447.9 1690.5V1696.4"/>
</g>
<g font-family="Liberation Sans, Arial, sans-serif" font-weight="bold" font-size="31" text-anchor="end" stroke="#000" stroke-width="0.07" stroke-linejoin="round">
<text transform="translate(868.55 1701.66) scale(0.953 1)">0.0</text>
<text transform="translate(868.55 1599.41) scale(0.953 1)">0.5</text>
<text transform="translate(868.55 1497.16) scale(0.953 1)">1.0</text>
<text transform="translate(868.55 1394.91) scale(0.953 1)">1.5</text>
<text transform="translate(868.55 1292.66) scale(0.953 1)">2.0</text>
</g>
<g font-family="Liberation Sans, Arial, sans-serif" font-weight="bold" font-size="31.23" text-anchor="middle" stroke="#000" stroke-width="0.12" stroke-linejoin="round">
<text transform="translate(876.15 1727.84) scale(0.930 1)">0</text>
<text transform="translate(923.8 1727.84) scale(0.930 1)">2</text>
<text transform="translate(971.44 1727.84) scale(0.930 1)">4</text>
<text transform="translate(1019.09 1727.84) scale(0.930 1)">6</text>
<text transform="translate(1066.73 1727.84) scale(0.930 1)">8</text>
<text transform="translate(1114.38 1727.84) scale(0.930 1)">10</text>
<text transform="translate(1162.03 1727.84) scale(0.930 1)">12</text>
<text transform="translate(1209.67 1727.84) scale(0.930 1)">14</text>
<text transform="translate(1257.32 1727.84) scale(0.930 1)">16</text>
<text transform="translate(1304.96 1727.84) scale(0.930 1)">18</text>
<text transform="translate(1352.61 1727.84) scale(0.930 1)">20</text>
<text transform="translate(1400.25 1727.84) scale(0.930 1)">22</text>
<text transform="translate(1447.9 1727.84) scale(0.930 1)">24</text>
</g>
<text font-family="Liberation Sans, Arial, sans-serif" font-weight="bold" font-style="italic" font-size="31.33" stroke="#000" stroke-width="0.16" stroke-linejoin="round" transform="translate(1096.97 1305.72) scale(0.918 1)">B. fragilis</text>
<text font-family="Liberation Sans, Arial, sans-serif" font-weight="bold" font-size="34.33" transform="translate(1105.27 1770.6) scale(0.976 1)">Time (H)</text>
<text font-family="Liberation Sans, Arial, sans-serif" font-weight="bold" font-size="32.79" transform="translate(803.67 1565.84) rotate(-90) scale(1.018 1)">OD 650 nm</text>
<g stroke="#000" stroke-width="1.15" fill="none" stroke-linejoin="round">
<polyline points="876.15,1690.5 899.97,1687.23 923.8,1686 947.62,1686.21 971.44,1680.28 995.26,1660.44 1019.09,1564.53 1042.91,1479.46 1066.73,1448.58 1090.56,1430.38 1114.38,1414.83 1138.2,1400.93 1162.03,1390.09 1185.85,1382.32 1209.67,1375.16 1233.49,1368.82 1257.32,1366.16 1283.52,1364.12 1307.34,1362.69 1331.17,1360.85 1354.99,1358.39 1378.81,1355.12 1402.64,1353.89 1426.46,1351.23 1443.14,1351.03"/>
<polyline points="876.15,1690.5 899.97,1689.48 923.8,1688.45 947.62,1688.05 971.44,1687.23 995.26,1675.78 1019.09,1624.86 1042.91,1520.15 1066.73,1468.82 1090.56,1449.6 1114.38,1433.65 1138.2,1419.74 1162.03,1407.68 1185.85,1396.02 1209.67,1386.61 1233.49,1378.84 1257.32,1371.28 1283.52,1370.87 1307.34,1367.19 1331.17,1363.91 1354.99,1361.46 1378.81,1358.8 1402.64,1357.37 1426.46,1354.71 1443.14,1354.1"/>
<polyline points="876.15,1690.5 899.97,1689.48 923.8,1688.45 947.62,1688.05 971.44,1687.23 995.26,1675.78 1019.09,1624.86 1042.91,1520.15 1066.73,1465.14 1090.56,1441.83 1114.38,1426.9 1138.2,1414.83 1162.03,1403.59 1185.85,1393.16 1209.67,1383.34 1233.49,1376.59 1257.32,1370.46 1283.52,1370.05 1307.34,1366.37 1331.17,1363.1 1354.99,1360.64 1378.81,1357.98 1402.64,1356.55 1426.46,1353.89 1443.14,1353.28"/>
</g>
<g fill="#000">
<path d="M872.36 1690.5a3.79 3.92 0 1 0 7.59 0a3.79 3.92 0 1 0 -7.59 0zM896.18 1687.23a3.79 3.92 0 1 0 7.59 0a3.79 3.92 0 1 0 -7.59 0zM920 1686a3.79 3.92 0 1 0 7.59 0a3.79 3.92 0 1 0 -7.59 0zM943.82 1686.21a3.79 3.92 0 1 0 7.59 0a3.79 3.92 0 1 0 -7.59 0zM967.65 1680.28a3.79 3.92 0 1 0 7.59 0a3.79 3.92 0 1 0 -7.59 0zM991.47 1660.44a3.79 3.92 0 1 0 7.59 0a3.79 3.92 0 1 0 -7.59 0zM1015.29 1564.53a3.79 3.92 0 1 0 7.59 0a3.79 3.92 0 1 0 -7.59 0zM1039.12 1479.46a3.79 3.92 0 1 0 7.59 0a3.79 3.92 0 1 0 -7.59 0zM1062.94 1448.58a3.79 3.92 0 1 0 7.59 0a3.79 3.92 0 1 0 -7.59 0zM1086.76 1430.38a3.79 3.92 0 1 0 7.59 0a3.79 3.92 0 1 0 -7.59 0zM1110.59 1414.83a3.79 3.92 0 1 0 7.59 0a3.79 3.92 0 1 0 -7.59 0zM1134.41 1400.93a3.79 3.92 0 1 0 7.59 0a3.79 3.92 0 1 0 -7.59 0zM1158.23 1390.09a3.79 3.92 0 1 0 7.59 0a3.79 3.92 0 1 0 -7.59 0zM1182.05 1382.32a3.79 3.92 0 1 0 7.59 0a3.79 3.92 0 1 0 -7.59 0zM1205.88 1375.16a3.79 3.92 0 1 0 7.59 0a3.79 3.92 0 1 0 -7.59 0zM1229.7 1368.82a3.79 3.92 0 1 0 7.59 0a3.79 3.92 0 1 0 -7.59 0zM1253.52 1366.16a3.79 3.92 0 1 0 7.59 0a3.79 3.92 0 1 0 -7.59 0zM1279.73 1364.12a3.79 3.92 0 1 0 7.59 0a3.79 3.92 0 1 0 -7.59 0zM1303.55 1362.69a3.79 3.92 0 1 0 7.59 0a3.79 3.92 0 1 0 -7.59 0zM1327.37 1360.85a3.79 3.92 0 1 0 7.59 0a3.79 3.92 0 1 0 -7.59 0zM1351.2 1358.39a3.79 3.92 0 1 0 7.59 0a3.79 3.92 0 1 0 -7.59 0zM1375.02 1355.12a3.79 3.92 0 1 0 7.59 0a3.79 3.92 0 1 0 -7.59 0zM1398.84 1353.89a3.79 3.92 0 1 0 7.59 0a3.79 3.92 0 1 0 -7.59 0zM1422.67 1351.23a3.79 3.92 0 1 0 7.59 0a3.79 3.92 0 1 0 -7.59 0zM1439.34 1351.03a3.79 3.92 0 1 0 7.59 0a3.79 3.92 0 1 0 -7.59 0z"/>
<path d="M873.23 1687.55h5.84v5.9h-5.84zM897.05 1686.53h5.84v5.9h-5.84zM920.87 1685.5h5.84v5.9h-5.84zM944.7 1685.09h5.84v5.9h-5.84zM968.52 1684.28h5.84v5.9h-5.84zM992.34 1672.82h5.84v5.9h-5.84zM1016.17 1621.9h5.84v5.9h-5.84zM1039.99 1517.2h5.84v5.9h-5.84zM1063.81 1465.87h5.84v5.9h-5.84zM1087.63 1446.65h5.84v5.9h-5.84zM1111.46 1430.7h5.84v5.9h-5.84zM1135.28 1416.79h5.84v5.9h-5.84zM1159.1 1404.73h5.84v5.9h-5.84zM1182.93 1393.07h5.84v5.9h-5.84zM1206.75 1383.66h5.84v5.9h-5.84zM1230.57 1375.89h5.84v5.9h-5.84zM1254.39 1368.32h5.84v5.9h-5.84zM1280.6 1367.92h5.84v5.9h-5.84zM1304.42 1364.23h5.84v5.9h-5.84zM1328.25 1360.96h5.84v5.9h-5.84zM1352.07 1358.51h5.84v5.9h-5.84zM1375.89 1355.85h5.84v5.9h-5.84zM1399.71 1354.42h5.84v5.9h-5.84zM1423.54 1351.76h5.84v5.9h-5.84zM1440.21 1351.15h5.84v5.9h-5.84z"/>
<path d="M876.15 1686.89L880.35 1694.11H871.95zM899.97 1685.87L904.18 1693.09H895.77zM923.8 1684.84L928 1692.07H919.59zM947.62 1684.43L951.82 1691.66H943.41zM971.44 1683.62L975.65 1690.84H967.24zM995.26 1672.16L999.47 1679.39H991.06zM1019.09 1621.24L1023.29 1628.47H1014.88zM1042.91 1516.54L1047.11 1523.76H1038.71zM1066.73 1461.53L1070.94 1468.75H1062.53zM1090.56 1438.22L1094.76 1445.44H1086.35zM1114.38 1423.29L1118.58 1430.51H1110.18zM1138.2 1411.22L1142.41 1418.45H1134zM1162.03 1399.97L1166.23 1407.2H1157.82zM1185.85 1389.55L1190.05 1396.77H1181.64zM1209.67 1379.73L1213.87 1386.95H1205.47zM1233.49 1372.98L1237.7 1380.2H1229.29zM1257.32 1366.85L1261.52 1374.07H1253.11zM1283.52 1366.44L1287.73 1373.66H1279.32zM1307.34 1362.76L1311.55 1369.98H1303.14zM1331.17 1359.48L1335.37 1366.71H1326.96zM1354.99 1357.03L1359.19 1364.25H1350.79zM1378.81 1354.37L1383.02 1361.59H1374.61zM1402.64 1352.94L1406.84 1360.16H1398.43zM1426.46 1350.28L1430.66 1357.5H1422.26zM1443.14 1349.67L1447.34 1356.89H1438.93z"/>
</g>
</g>
<g id="chart6">
<g stroke="#000" fill="none" stroke-linecap="butt">
<path stroke-width="3.2" d="M147.15 1847.55V2276.1"/>
<path stroke-width="3.2" d="M139.2 2274.5H720.65"/>
<path stroke-width="2.7" d="M139.2 2168.1H147.15M139.2 2061.7H147.15M139.2 1955.3H147.15M139.2 1848.9H147.15"/>
<path stroke-width="2.8" d="M142.3 2263.86H147.15M142.3 2253.22H147.15M142.3 2242.58H147.15M142.3 2231.94H147.15M142.3 2221.3H147.15M142.3 2210.66H147.15M142.3 2200.02H147.15M142.3 2189.38H147.15M142.3 2178.74H147.15M142.3 2157.46H147.15M142.3 2146.82H147.15M142.3 2136.18H147.15M142.3 2125.54H147.15M142.3 2114.9H147.15M142.3 2104.26H147.15M142.3 2093.62H147.15M142.3 2082.98H147.15M142.3 2072.34H147.15M142.3 2051.06H147.15M142.3 2040.42H147.15M142.3 2029.78H147.15M142.3 2019.14H147.15M142.3 2008.5H147.15M142.3 1997.86H147.15M142.3 1987.22H147.15M142.3 1976.58H147.15M142.3 1965.94H147.15M142.3 1944.66H147.15M142.3 1934.02H147.15M142.3 1923.38H147.15M142.3 1912.74H147.15M142.3 1902.1H147.15M142.3 1891.46H147.15M142.3 1880.82H147.15M142.3 1870.18H147.15M142.3 1859.54H147.15"/>
<path stroke-width="2.7" d="M147.15 2274.5V2282.7M194.83 2274.5V2282.7M242.51 2274.5V2282.7M290.19 2274.5V2282.7M337.87 2274.5V2282.7M385.55 2274.5V2282.7M433.23 2274.5V2282.7M480.9 2274.5V2282.7M528.58 2274.5V2282.7M576.26 2274.5V2282.7M623.94 2274.5V2282.7M671.62 2274.5V2282.7M719.3 2274.5V2282.7"/>
</g>
<g font-family="Liberation Sans, Arial, sans-serif" font-weight="bold" font-size="32.31" text-anchor="end" stroke="#000" stroke-width="0.14" stroke-linejoin="round">
<text transform="translate(137.94 2286.21) scale(0.924 1)">0.0</text>
<text transform="translate(137.94 2179.81) scale(0.924 1)">0.5</text>
<text transform="translate(137.94 2073.41) scale(0.924 1)">1.0</text>
<text transform="translate(137.94 1967.01) scale(0.924 1)">1.5</text>
<text transform="translate(137.94 1860.61) scale(0.924 1)">2.0</text>
</g>
<g font-family="Liberation Sans, Arial, sans-serif" font-weight="bold" font-size="32.67" text-anchor="middle" stroke="#000" stroke-width="0.21" stroke-linejoin="round">
<text transform="translate(147.15 2315.99) scale(0.896 1)">0</text>
<text transform="translate(194.83 2315.99) scale(0.896 1)">2</text>
<text transform="translate(242.51 2315.99) scale(0.896 1)">4</text>
<text transform="translate(290.19 2315.99) scale(0.896 1)">6</text>
<text transform="translate(337.87 2315.99) scale(0.896 1)">8</text>
<text transform="translate(385.55 2315.99) scale(0.896 1)">10</text>
<text transform="translate(433.23 2315.99) scale(0.896 1)">12</text>
<text transform="translate(480.9 2315.99) scale(0.896 1)">14</text>
<text transform="translate(528.58 2315.99) scale(0.896 1)">16</text>
<text transform="translate(576.26 2315.99) scale(0.896 1)">18</text>
<text transform="translate(623.94 2315.99) scale(0.896 1)">20</text>
<text transform="translate(671.62 2315.99) scale(0.896 1)">22</text>
<text transform="translate(719.3 2315.99) scale(0.896 1)">24</text>
</g>
<text font-family="Liberation Sans, Arial, sans-serif" font-weight="bold" font-style="italic" font-size="29.99" stroke="#000" stroke-width="0.18" stroke-linejoin="round" transform="translate(351.1 1872.91) scale(0.911 1)">F. prausnitzii</text>
<text font-family="Liberation Sans, Arial, sans-serif" font-weight="bold" font-size="33.75" transform="translate(387.67 2352.6) scale(0.990 1)">Time (H)</text>
<text font-family="Liberation Sans, Arial, sans-serif" font-weight="bold" font-size="34.2" transform="translate(74.76 2127.03) rotate(-90) scale(0.975 1)">OD 650 nm</text>
<g stroke="#000" stroke-width="1.15" fill="none" stroke-linejoin="round">
<polyline points="147.15,2274.5 170.99,2271.31 194.83,2270.46 218.67,2270.03 242.51,2268.75 266.35,2229.17 290.19,2111.71 314.03,2033.18 337.87,2002.54 361.71,1981.9 385.55,1967 409.39,1955.3 433.23,1947 457.06,1939.77 480.9,1934.02 504.74,1928.49 528.58,1924.66 554.81,1924.02 578.65,1923.38 602.49,1922.74 650.17,1920.83 674,1919.34 697.84,1919.12 714.53,1917.85"/>
<polyline points="147.15,2274.5 170.99,2272.58 194.83,2271.95 218.67,2271.1 242.51,2268.75 266.35,2255.35 290.19,2187.04 314.03,2082.98 337.87,2028.93 361.71,2002.75 385.55,1984.88 409.39,1969.98 433.23,1958.28 457.06,1948.06 480.9,1939.55 504.74,1933.38 528.58,1928.7 554.81,1930.83 578.65,1925.93 602.49,1922.95 643.01,1918.91 650.17,1918.27 674,1915.51 697.84,1913.59 714.53,1912.53"/>
<polyline points="147.15,2274.5 170.99,2269.39 194.83,2267.69 218.67,2266.63 242.51,2265.56 266.35,2261.73 290.19,2190.02 314.03,2075.32 337.87,2028.29 361.71,2007.22 385.55,1990.62 409.39,1975.3 433.23,1962.75 457.06,1952.32 480.9,1943.38 504.74,1935.72 528.58,1929.76 554.81,1930.83 578.65,1925.93 602.49,1922.95 643.01,1917.85 650.17,1915.93 674,1912.95 697.84,1910.61 714.53,1909.55"/>
</g>
<g fill="#000">
<path d="M143.35 2274.5a3.8 4.08 0 1 0 7.59 0a3.8 4.08 0 1 0 -7.59 0zM167.19 2271.31a3.8 4.08 0 1 0 7.59 0a3.8 4.08 0 1 0 -7.59 0zM191.03 2270.46a3.8 4.08 0 1 0 7.59 0a3.8 4.08 0 1 0 -7.59 0zM214.87 2270.03a3.8 4.08 0 1 0 7.59 0a3.8 4.08 0 1 0 -7.59 0zM238.71 2268.75a3.8 4.08 0 1 0 7.59 0a3.8 4.08 0 1 0 -7.59 0zM262.55 2229.17a3.8 4.08 0 1 0 7.59 0a3.8 4.08 0 1 0 -7.59 0zM286.39 2111.71a3.8 4.08 0 1 0 7.59 0a3.8 4.08 0 1 0 -7.59 0zM310.23 2033.18a3.8 4.08 0 1 0 7.59 0a3.8 4.08 0 1 0 -7.59 0zM334.07 2002.54a3.8 4.08 0 1 0 7.59 0a3.8 4.08 0 1 0 -7.59 0zM357.91 1981.9a3.8 4.08 0 1 0 7.59 0a3.8 4.08 0 1 0 -7.59 0zM381.75 1967a3.8 4.08 0 1 0 7.59 0a3.8 4.08 0 1 0 -7.59 0zM405.59 1955.3a3.8 4.08 0 1 0 7.59 0a3.8 4.08 0 1 0 -7.59 0zM429.43 1947a3.8 4.08 0 1 0 7.59 0a3.8 4.08 0 1 0 -7.59 0zM453.27 1939.77a3.8 4.08 0 1 0 7.59 0a3.8 4.08 0 1 0 -7.59 0zM477.11 1934.02a3.8 4.08 0 1 0 7.59 0a3.8 4.08 0 1 0 -7.59 0zM500.95 1928.49a3.8 4.08 0 1 0 7.59 0a3.8 4.08 0 1 0 -7.59 0zM524.79 1924.66a3.8 4.08 0 1 0 7.59 0a3.8 4.08 0 1 0 -7.59 0zM551.01 1924.02a3.8 4.08 0 1 0 7.59 0a3.8 4.08 0 1 0 -7.59 0zM574.85 1923.38a3.8 4.08 0 1 0 7.59 0a3.8 4.08 0 1 0 -7.59 0zM598.69 1922.74a3.8 4.08 0 1 0 7.59 0a3.8 4.08 0 1 0 -7.59 0zM646.37 1920.83a3.8 4.08 0 1 0 7.59 0a3.8 4.08 0 1 0 -7.59 0zM670.21 1919.34a3.8 4.08 0 1 0 7.59 0a3.8 4.08 0 1 0 -7.59 0zM694.05 1919.12a3.8 4.08 0 1 0 7.59 0a3.8 4.08 0 1 0 -7.59 0zM710.74 1917.85a3.8 4.08 0 1 0 7.59 0a3.8 4.08 0 1 0 -7.59 0z"/>
<path d="M144.23 2271.43h5.85v6.14h-5.85zM168.07 2269.51h5.85v6.14h-5.85zM191.9 2268.88h5.85v6.14h-5.85zM215.74 2268.02h5.85v6.14h-5.85zM239.58 2265.68h5.85v6.14h-5.85zM263.42 2252.28h5.85v6.14h-5.85zM287.26 2183.97h5.85v6.14h-5.85zM311.1 2079.91h5.85v6.14h-5.85zM334.94 2025.86h5.85v6.14h-5.85zM358.78 1999.68h5.85v6.14h-5.85zM382.62 1981.81h5.85v6.14h-5.85zM406.46 1966.91h5.85v6.14h-5.85zM430.3 1955.21h5.85v6.14h-5.85zM454.14 1944.99h5.85v6.14h-5.85zM477.98 1936.48h5.85v6.14h-5.85zM501.82 1930.31h5.85v6.14h-5.85zM525.66 1925.63h5.85v6.14h-5.85zM551.88 1927.76h5.85v6.14h-5.85zM575.72 1922.86h5.85v6.14h-5.85zM599.56 1919.88h5.85v6.14h-5.85zM640.09 1915.84h5.85v6.14h-5.85zM647.24 1915.2h5.85v6.14h-5.85zM671.08 1912.44h5.85v6.14h-5.85zM694.92 1910.52h5.85v6.14h-5.85zM711.61 1909.46h5.85v6.14h-5.85z"/>
<path d="M147.15 2270.74L151.36 2278.26H142.94zM170.99 2265.63L175.2 2273.15H166.78zM194.83 2263.93L199.04 2271.45H190.62zM218.67 2262.87L222.88 2270.38H214.46zM242.51 2261.8L246.72 2269.32H238.3zM266.35 2257.97L270.55 2265.49H262.14zM290.19 2186.26L294.39 2193.78H285.98zM314.03 2071.56L318.23 2079.08H309.82zM337.87 2024.53L342.07 2032.05H333.66zM361.71 2003.46L365.91 2010.98H357.5zM385.55 1986.87L389.75 1994.38H381.34zM409.39 1971.54L413.59 1979.06H405.18zM433.23 1958.99L437.43 1966.51H429.02zM457.06 1948.56L461.27 1956.08H452.86zM480.9 1939.62L485.11 1947.14H476.7zM504.74 1931.96L508.95 1939.48H500.54zM528.58 1926.01L532.79 1933.52H524.38zM554.81 1927.07L559.01 1934.59H550.6zM578.65 1922.18L582.85 1929.69H574.44zM602.49 1919.2L606.69 1926.71H598.28zM643.01 1914.09L647.22 1921.61H638.81zM650.17 1912.17L654.37 1919.69H645.96zM674 1909.19L678.21 1916.71H669.8zM697.84 1906.85L702.05 1914.37H693.64zM714.53 1905.79L718.74 1913.31H710.33z"/>
</g>
</g>
</svg></body></html>
